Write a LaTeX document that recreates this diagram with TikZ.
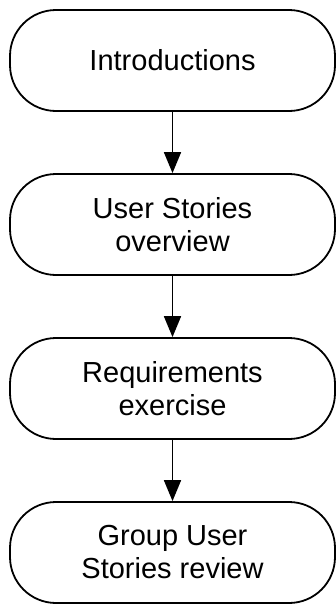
\documentclass[tikz,border=0pt]{standalone}
\usepackage{fontspec}
\setmainfont{Liberation Sans}
\usetikzlibrary{arrows.meta}
\begin{document}
\begin{tikzpicture}[x=1pt,y=-1pt,
  stepbox/.style={draw=black, line width=1.8pt, rounded corners=46pt, minimum width=325pt, minimum height=101pt, align=center, inner sep=0pt, font=\fontsize{29}{33}\selectfont},
  flow/.style={line width=1.8pt, -{Triangle[width=17pt,length=21pt]}}]
\useasboundingbox (0,0) rectangle (336,605);
\node[stepbox] (a) at (172.5,60.5) {Introductions};
\node[stepbox] (b) at (172.5,224.5) {User Stories\\overview};
\node[stepbox] (c) at (172.5,388.5) {Requirements\\exercise};
\node[stepbox] (d) at (172.5,552.5) {Group User\\Stories review};
\draw[flow] (a) -- (b);
\draw[flow] (b) -- (c);
\draw[flow] (c) -- (d);
\end{tikzpicture}
\end{document}
